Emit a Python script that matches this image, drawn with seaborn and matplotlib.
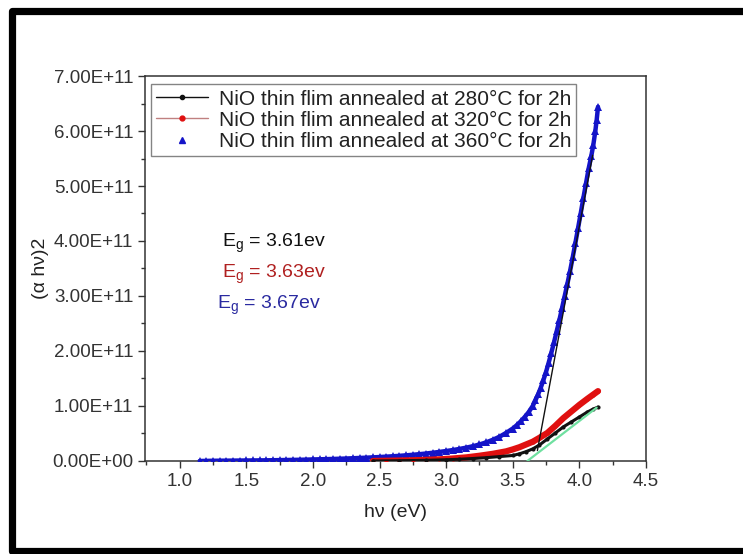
import matplotlib
matplotlib.use("Agg")
import matplotlib.pyplot as plt
from matplotlib.lines import Line2D
from matplotlib.ticker import FuncFormatter, MultipleLocator
import numpy as np
import seaborn as sns

# photon energy (eV) and (alpha h nu)^2 in units of 1e11
hv_360 = [1.15, 1.20, 1.25, 1.30, 1.35, 1.40, 1.45, 1.50, 1.55, 1.60, 1.65, 1.70,
          1.75, 1.80, 1.85, 1.90, 1.95, 2.00, 2.05, 2.10, 2.15, 2.20, 2.25, 2.30,
          2.35, 2.40, 2.45, 2.50, 2.55, 2.60, 2.65, 2.70, 2.75, 2.80, 2.85, 2.90,
          2.95, 3.00, 3.05, 3.10, 3.15, 3.20, 3.25, 3.30, 3.35, 3.40, 3.45, 3.50,
          3.53, 3.56, 3.59, 3.62, 3.65, 3.67, 3.69, 3.71, 3.73, 3.75, 3.77, 3.79,
          3.81, 3.83, 3.85, 3.87, 3.89, 3.91, 3.93, 3.95, 3.97, 3.99, 4.01, 4.03,
          4.05, 4.07, 4.09, 4.105, 4.12, 4.13, 4.14]
ah_360 = [0.000, 0.002, 0.004, 0.005, 0.006, 0.007, 0.008, 0.009, 0.010, 0.011, 0.012, 0.014,
          0.016, 0.018, 0.020, 0.022, 0.025, 0.028, 0.031, 0.034, 0.037, 0.041, 0.045, 0.050,
          0.055, 0.060, 0.066, 0.072, 0.079, 0.086, 0.094, 0.103, 0.113, 0.124, 0.136, 0.150,
          0.165, 0.181, 0.199, 0.219, 0.242, 0.268, 0.300, 0.338, 0.385, 0.44, 0.51, 0.59,
          0.65, 0.72, 0.80, 0.89, 1.00, 1.10, 1.21, 1.33, 1.47, 1.62, 1.79, 1.97,
          2.16, 2.36, 2.56, 2.78, 3.00, 3.22, 3.45, 3.70, 3.96, 4.23, 4.50, 4.78,
          5.05, 5.32, 5.55, 5.75, 6.00, 6.20, 6.44]

hv_320 = [2.45, 2.55, 2.65, 2.75, 2.85, 2.95, 3.05, 3.15, 3.25, 3.35, 3.45, 3.50,
          3.55, 3.60, 3.65, 3.70, 3.76, 3.82, 3.88, 3.94, 4.00, 4.06, 4.10, 4.14]
ah_320 = [0.000, 0.004, 0.008, 0.013, 0.020, 0.030, 0.045, 0.065, 0.095, 0.130, 0.175, 0.21,
          0.25, 0.30, 0.35, 0.42, 0.51, 0.64, 0.78, 0.90, 1.02, 1.13, 1.20, 1.27]

hv_280 = [2.45, 2.65, 2.85, 3.00, 3.10, 3.20, 3.30, 3.40, 3.50, 3.55, 3.60, 3.65,
          3.70, 3.76, 3.82, 3.88, 3.94, 4.00, 4.06, 4.10, 4.14]
ah_280 = [0.000, 0.005, 0.012, 0.022, 0.032, 0.045, 0.060, 0.080, 0.10, 0.13, 0.17, 0.22,
          0.29, 0.40, 0.51, 0.62, 0.71, 0.80, 0.89, 0.94, 0.98]

# tangent (Tauc) fits
fit_blue_x = [3.685, 4.10]
fit_blue_y = [0.19, 5.56]
fit_green_x = [3.61, 4.13]
fit_green_y = [0.0, 0.97]

labels = ["NiO thin flim annealed at 280°C for 2h",
          "NiO thin flim annealed at 320°C for 2h",
          "NiO thin flim annealed at 360°C for 2h"]
eg_texts = ["3.61ev", "3.63ev", "3.67ev"]

sns.set_style("ticks")
plt.rcParams["font.family"] = ["Liberation Sans", "DejaVu Sans"]
plt.rcParams["mathtext.fontset"] = "custom"
plt.rcParams["mathtext.rm"] = "Liberation Sans"

c_black = "#111111"
c_red = "#e01010"
c_blue = "#1414c8"
c_green = "#6fe0a0"

fig = plt.figure(figsize=(7.43, 5.54), dpi=100)
ax = fig.add_axes([0.1952, 0.1679, 0.6742, 0.6949])

scale = 1e11
sns.lineplot(x=hv_360, y=np.array(ah_360) * scale, ax=ax, color=c_blue, lw=3.2,
             marker="^", markersize=5.5, markeredgewidth=0, legend=False, zorder=3)
sns.lineplot(x=hv_320, y=np.array(ah_320) * scale, ax=ax, color=c_red, lw=4.5,
             marker="o", markersize=3, markeredgewidth=0, legend=False, zorder=4)
sns.lineplot(x=hv_280, y=np.array(ah_280) * scale, ax=ax, color=c_black, lw=2.2,
             marker="o", markersize=3, markeredgewidth=0, legend=False, zorder=5)
sns.lineplot(x=fit_green_x, y=np.array(fit_green_y) * scale, ax=ax, color=c_green,
             lw=1.6, legend=False, zorder=6)
sns.lineplot(x=fit_blue_x, y=np.array(fit_blue_y) * scale, ax=ax, color=c_black,
             lw=1.0, legend=False, zorder=6)

ax.set_xlim(0.74, 4.5)
ax.set_ylim(0, 7e11)
ax.xaxis.set_major_locator(MultipleLocator(0.5))
ax.xaxis.set_minor_locator(MultipleLocator(0.25))
ax.yaxis.set_major_locator(MultipleLocator(1e11))
ax.yaxis.set_minor_locator(MultipleLocator(0.5e11))
ax.yaxis.set_major_formatter(FuncFormatter(lambda v, p: f"{v:.2E}"))
ax.xaxis.set_major_formatter(FuncFormatter(lambda v, p: f"{v:.1f}"))
ax.tick_params(which="major", direction="out", length=5, width=1, colors="#333333",
               labelsize=13.5, labelcolor="#333333")
ax.tick_params(which="minor", direction="out", length=3, width=1, colors="#333333")
for s in ax.spines.values():
    s.set_color("#333333")
    s.set_linewidth(1.1)

ax.set_xlabel("hν (eV)", fontsize=14, color="#222222", labelpad=10)
ax.set_ylabel("(α hν)2", fontsize=14, color="#222222", labelpad=2)

handles = [
    Line2D([], [], color=c_black, lw=1, marker="o", markersize=3),
    Line2D([], [], color="#c08080", lw=1, marker="o", markersize=3.5,
           markerfacecolor=c_red, markeredgecolor=c_red),
    Line2D([], [], color=c_blue, lw=0, marker="^", markersize=4),
]
leg = ax.legend(handles, labels, loc="upper left", bbox_to_anchor=(0.012, 0.978),
                borderaxespad=0, fontsize=15, frameon=True, fancybox=False,
                handlelength=2.5, handletextpad=0.5, labelspacing=0.1,
                borderpad=0.25)
leg.get_frame().set_edgecolor("#666666")
leg.get_frame().set_linewidth(1)
for t in leg.get_texts():
    t.set_color("#222222")

eg_colors = ["#111111", "#b02020", "#2a2aa0"]
eg_pos = [(0.154, 0.566), (0.154, 0.484), (0.144, 0.404)]
for txt, col, (px, py) in zip(eg_texts, eg_colors, eg_pos):
    ax.text(px, py, r"E$_\mathrm{g}$ = " + txt, transform=ax.transAxes,
            fontsize=14, color=col, va="center", ha="left")

# thick outer frame (open on the right)
fig.add_artist(Line2D([1.0, 0.0155, 0.0155, 1.0], [0.981, 0.981, 0.0054, 0.0054],
                      transform=fig.transFigure, color="black", lw=5.2,
                      solid_joinstyle="round"))

fig.savefig("out.png", dpi=100)
